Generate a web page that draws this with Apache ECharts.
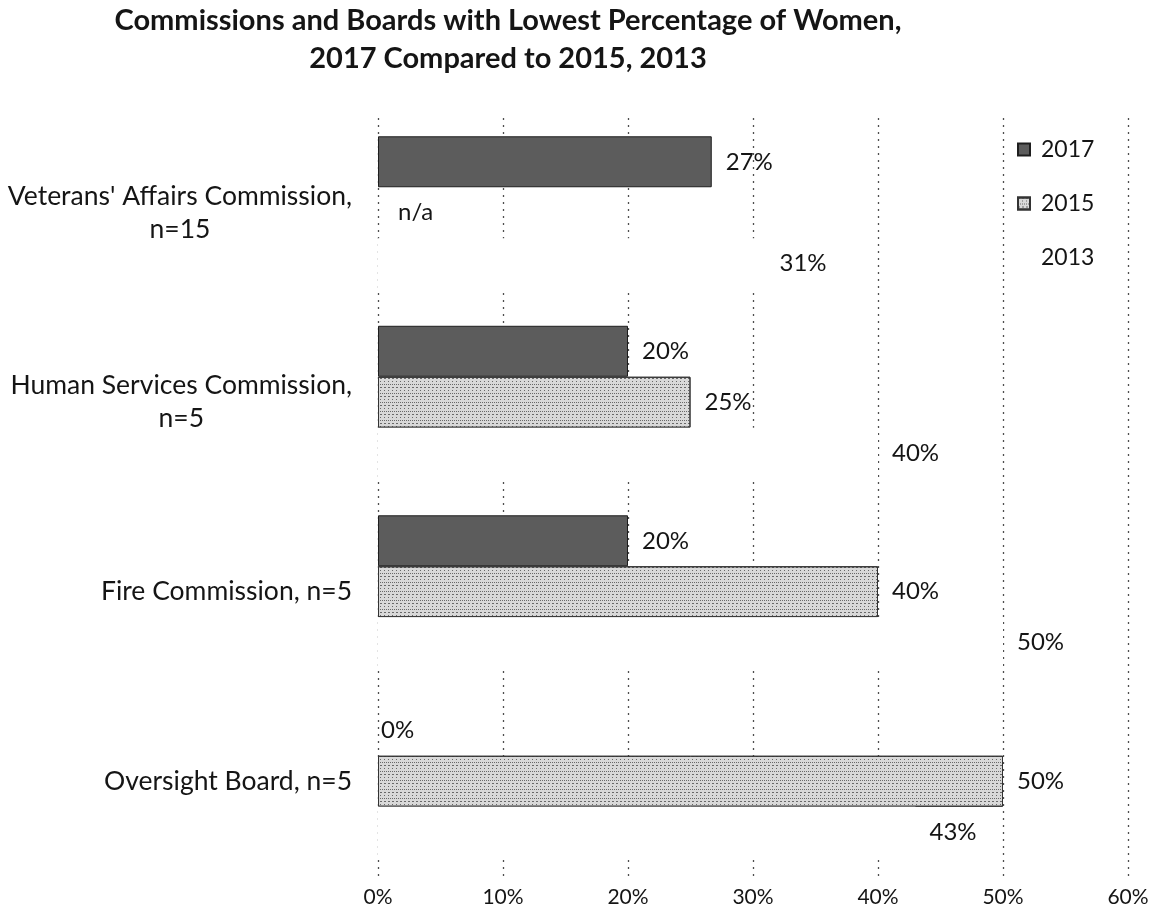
<!DOCTYPE html>
<html>
<head>
<meta charset="utf-8">
<script src="https://cdn.jsdelivr.net/npm/echarts@6/dist/echarts.min.js"></script>
<style>
html,body{margin:0;padding:0;background:#fff;}
#chart{width:1157px;height:920px;}
</style>
</head>
<body>
<div id="chart"></div>
<script>
const titleText = "Commissions and Boards with Lowest Percentage of Women,\n2017 Compared to 2015, 2013";
const categories = [
  "Veterans' Affairs Commission,\nn=15",
  "Human Services Commission,\nn=5",
  "Fire Commission, n=5",
  "Oversight Board, n=5"
];
const seriesNames = ["2017", "2015", "2013"];
const values2017 = [26.7, 20, 20, 0];
const values2015 = [null, 25, 40, 50]; // null = n/a
const values2013 = [31, 40, 50, 43];
const xMin = 0, xMax = 60, xStep = 10;

const FONT = "Lato";
const TXT = "#151515";

function toData(arr) {
  return arr.map(v => {
    if (v === null) return { value: 0, itemStyle: { borderWidth: 0, color: "rgba(0,0,0,0)" }, label: { formatter: "n/a", distance: 20 } };
    if (v === 0) return { value: 0, itemStyle: { borderWidth: 0, color: "rgba(0,0,0,0)" }, label: { distance: 3 } };
    return v;
  });
}

const labelCommon = {
  show: true,
  position: "right",
  distance: 14,
  fontFamily: FONT,
  fontSize: 24,
  color: TXT,
  formatter: p => Math.round(p.value) + "%"
};

const chart = echarts.init(document.getElementById("chart"), null, { renderer: "canvas" });
chart.setOption({
  animation: false,
  backgroundColor: "#ffffff",
  title: {
    text: titleText,
    left: 503,
    top: -3,
    textAlign: "center",
    textStyle: { fontFamily: FONT, fontSize: 29, fontWeight: "bold", color: TXT, lineHeight: 38 }
  },
  legend: {
    data: seriesNames,
    orient: "vertical",
    left: 1012,
    top: 133,
    itemGap: 31,
    itemWidth: 12,
    itemHeight: 12,
    icon: "rect",
    textStyle: { fontFamily: FONT, fontSize: 23, color: TXT, padding: [0, 0, 0, 6] }
  },
  grid: { left: 378, right: 29, top: 118, bottom: 44, containLabel: false },
  xAxis: {
    type: "value",
    min: xMin,
    max: xMax,
    interval: xStep,
    axisLine: { show: false },
    axisTick: { show: false },
    axisLabel: { formatter: "{value}%", fontFamily: FONT, fontSize: 21, color: TXT, margin: 11 },
    splitLine: { show: true, lineStyle: { color: "#222", width: 1.3, type: [2, 5], opacity: 0.8 } }
  },
  yAxis: {
    type: "category",
    inverse: true,
    data: categories,
    axisLine: { show: false },
    axisTick: { show: false },
    axisLabel: {
      margin: 26,
      formatter: v => v.split("\n").map(l => "{c|" + l + "}").join("\n"),
      rich: { c: { align: "center", fontFamily: FONT, fontSize: 26.5, color: TXT, lineHeight: 33 } }
    }
  },
  series: [
    {
      name: seriesNames[0], type: "bar", data: toData(values2017),
      barGap: "0%", barCategoryGap: "19.3%",
      itemStyle: { color: "#5c5c5c", borderColor: "#1e1e1e", borderWidth: 1 },
      label: labelCommon
    },
    {
      name: seriesNames[1], type: "bar", data: toData(values2015),
      barGap: "0%", barCategoryGap: "19.3%",
      itemStyle: {
        color: "#d9d9d9", borderColor: "#333", borderWidth: 1,
        decal: { symbol: "rect", symbolSize: 1, color: "rgba(30,30,30,0.6)", dashArrayX: [[1, 1], [2, 2], [1, 3]], dashArrayY: [1, 1.5], rotation: 0 }
      },
      label: labelCommon
    },
    {
      name: seriesNames[2], type: "bar", data: toData(values2013),
      barGap: "0%", barCategoryGap: "19.3%",
      itemStyle: { color: "#ffffff" },
      label: labelCommon
    }
  ]
});
</script>
</body>
</html>
